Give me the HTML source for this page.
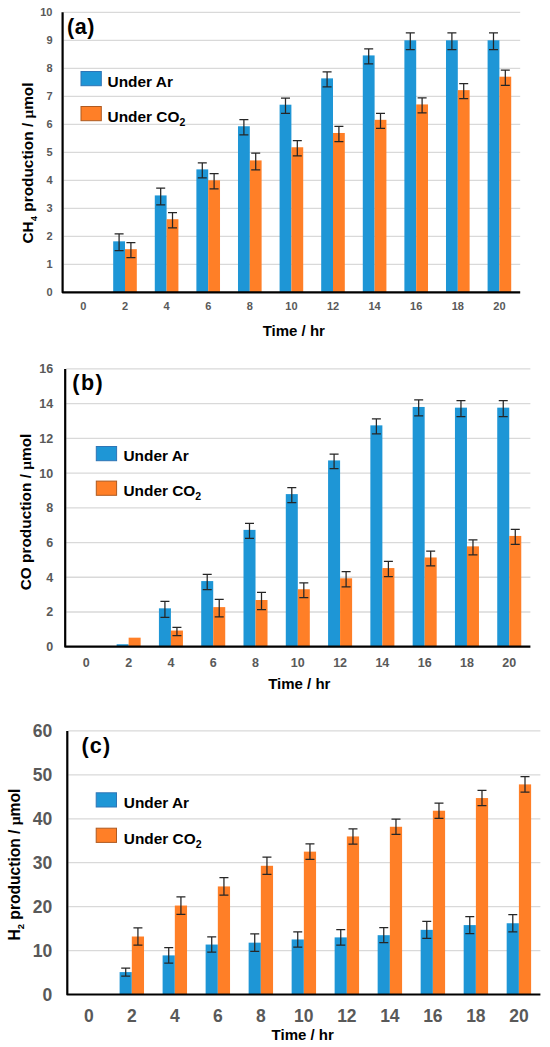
<!DOCTYPE html><html><head><meta charset="utf-8"><style>html,body{margin:0;padding:0;background:#fff;overflow:hidden;width:550px;height:1047px;}svg{display:block;}text{font-family:"Liberation Sans",sans-serif;font-weight:bold;}</style></head><body>
<svg width="550" height="1047" viewBox="0 0 550 1047">
<rect x="0" y="0" width="550" height="1047" fill="#fff"/>
<line x1="63.6" y1="264.3" x2="520.2" y2="264.3" stroke="#D9D9D9" stroke-width="1.3"/>
<line x1="63.6" y1="236.3" x2="520.2" y2="236.3" stroke="#D9D9D9" stroke-width="1.3"/>
<line x1="63.6" y1="208.3" x2="520.2" y2="208.3" stroke="#D9D9D9" stroke-width="1.3"/>
<line x1="63.6" y1="180.3" x2="520.2" y2="180.3" stroke="#D9D9D9" stroke-width="1.3"/>
<line x1="63.6" y1="152.3" x2="520.2" y2="152.3" stroke="#D9D9D9" stroke-width="1.3"/>
<line x1="63.6" y1="124.3" x2="520.2" y2="124.3" stroke="#D9D9D9" stroke-width="1.3"/>
<line x1="63.6" y1="96.3" x2="520.2" y2="96.3" stroke="#D9D9D9" stroke-width="1.3"/>
<line x1="63.6" y1="68.3" x2="520.2" y2="68.3" stroke="#D9D9D9" stroke-width="1.3"/>
<line x1="63.6" y1="40.3" x2="520.2" y2="40.3" stroke="#D9D9D9" stroke-width="1.3"/>
<line x1="63.6" y1="12.3" x2="520.2" y2="12.3" stroke="#D9D9D9" stroke-width="1.3"/>
<rect x="113.19" y="241.34" width="11.81" height="50.96" fill="#1E96D6"/>
<rect x="125" y="249.18" width="11.81" height="43.12" fill="#FF7F27"/>
<rect x="154.79" y="195.42" width="11.81" height="96.88" fill="#1E96D6"/>
<rect x="166.6" y="219.22" width="11.81" height="73.08" fill="#FF7F27"/>
<rect x="196.39" y="169.38" width="11.81" height="122.92" fill="#1E96D6"/>
<rect x="208.2" y="180.3" width="11.81" height="112" fill="#FF7F27"/>
<rect x="237.99" y="126.26" width="11.81" height="166.04" fill="#1E96D6"/>
<rect x="249.8" y="160.42" width="11.81" height="131.88" fill="#FF7F27"/>
<rect x="279.59" y="104.7" width="11.81" height="187.6" fill="#1E96D6"/>
<rect x="291.4" y="147.26" width="11.81" height="145.04" fill="#FF7F27"/>
<rect x="321.19" y="78.38" width="11.81" height="213.92" fill="#1E96D6"/>
<rect x="333" y="132.98" width="11.81" height="159.32" fill="#FF7F27"/>
<rect x="362.79" y="55.42" width="11.81" height="236.88" fill="#1E96D6"/>
<rect x="374.6" y="119.82" width="11.81" height="172.48" fill="#FF7F27"/>
<rect x="404.39" y="40.3" width="11.81" height="252" fill="#1E96D6"/>
<rect x="416.2" y="104.42" width="11.81" height="187.88" fill="#FF7F27"/>
<rect x="445.99" y="40.3" width="11.81" height="252" fill="#1E96D6"/>
<rect x="457.8" y="90.14" width="11.81" height="202.16" fill="#FF7F27"/>
<rect x="487.59" y="40.3" width="11.81" height="252" fill="#1E96D6"/>
<rect x="499.4" y="76.7" width="11.81" height="215.6" fill="#FF7F27"/>
<path d="M119.09 233.94V250.74M114.59 233.94H123.59M114.59 250.74H123.59" stroke="#262626" stroke-width="1.25" fill="none"/>
<path d="M130.91 242.62V257.74M126.41 242.62H135.41M126.41 257.74H135.41" stroke="#262626" stroke-width="1.25" fill="none"/>
<path d="M160.69 188.02V204.82M156.19 188.02H165.19M156.19 204.82H165.19" stroke="#262626" stroke-width="1.25" fill="none"/>
<path d="M172.51 212.66V227.78M168.01 212.66H177.01M168.01 227.78H177.01" stroke="#262626" stroke-width="1.25" fill="none"/>
<path d="M202.29 162.82V177.94M197.79 162.82H206.79M197.79 177.94H206.79" stroke="#262626" stroke-width="1.25" fill="none"/>
<path d="M214.11 173.74V188.86M209.61 173.74H218.61M209.61 188.86H218.61" stroke="#262626" stroke-width="1.25" fill="none"/>
<path d="M243.89 119.7V134.82M239.39 119.7H248.39M239.39 134.82H248.39" stroke="#262626" stroke-width="1.25" fill="none"/>
<path d="M255.71 153.02V169.82M251.21 153.02H260.21M251.21 169.82H260.21" stroke="#262626" stroke-width="1.25" fill="none"/>
<path d="M285.49 98.14V113.26M280.99 98.14H289.99M280.99 113.26H289.99" stroke="#262626" stroke-width="1.25" fill="none"/>
<path d="M297.31 140.7V155.82M292.81 140.7H301.81M292.81 155.82H301.81" stroke="#262626" stroke-width="1.25" fill="none"/>
<path d="M327.09 71.82V86.94M322.59 71.82H331.59M322.59 86.94H331.59" stroke="#262626" stroke-width="1.25" fill="none"/>
<path d="M338.91 126.42V141.54M334.41 126.42H343.41M334.41 141.54H343.41" stroke="#262626" stroke-width="1.25" fill="none"/>
<path d="M368.69 48.86V63.98M364.19 48.86H373.19M364.19 63.98H373.19" stroke="#262626" stroke-width="1.25" fill="none"/>
<path d="M380.51 113.26V128.38M376.01 113.26H385.01M376.01 128.38H385.01" stroke="#262626" stroke-width="1.25" fill="none"/>
<path d="M410.29 32.9V49.7M405.79 32.9H414.79M405.79 49.7H414.79" stroke="#262626" stroke-width="1.25" fill="none"/>
<path d="M422.11 97.86V112.98M417.61 97.86H426.61M417.61 112.98H426.61" stroke="#262626" stroke-width="1.25" fill="none"/>
<path d="M451.89 32.9V49.7M447.39 32.9H456.39M447.39 49.7H456.39" stroke="#262626" stroke-width="1.25" fill="none"/>
<path d="M463.71 83.58V98.7M459.21 83.58H468.21M459.21 98.7H468.21" stroke="#262626" stroke-width="1.25" fill="none"/>
<path d="M493.49 32.9V49.7M488.99 32.9H497.99M488.99 49.7H497.99" stroke="#262626" stroke-width="1.25" fill="none"/>
<path d="M505.31 70.14V85.26M500.81 70.14H509.81M500.81 85.26H509.81" stroke="#262626" stroke-width="1.25" fill="none"/>
<path d="M62.6 12.3V292.3H520.2" stroke="#000" stroke-width="2.2" fill="none" stroke-linejoin="round"/>
<text x="52.5" y="296.24" font-size="11" fill="#595959" text-anchor="end">0</text>
<text x="52.5" y="268.24" font-size="11" fill="#595959" text-anchor="end">1</text>
<text x="52.5" y="240.24" font-size="11" fill="#595959" text-anchor="end">2</text>
<text x="52.5" y="212.24" font-size="11" fill="#595959" text-anchor="end">3</text>
<text x="52.5" y="184.24" font-size="11" fill="#595959" text-anchor="end">4</text>
<text x="52.5" y="156.24" font-size="11" fill="#595959" text-anchor="end">5</text>
<text x="52.5" y="128.24" font-size="11" fill="#595959" text-anchor="end">6</text>
<text x="52.5" y="100.24" font-size="11" fill="#595959" text-anchor="end">7</text>
<text x="52.5" y="72.24" font-size="11" fill="#595959" text-anchor="end">8</text>
<text x="52.5" y="44.24" font-size="11" fill="#595959" text-anchor="end">9</text>
<text x="52.5" y="16.24" font-size="11" fill="#595959" text-anchor="end">10</text>
<text x="83.4" y="309.5" font-size="11" fill="#595959" text-anchor="middle">0</text>
<text x="125" y="309.5" font-size="11" fill="#595959" text-anchor="middle">2</text>
<text x="166.6" y="309.5" font-size="11" fill="#595959" text-anchor="middle">4</text>
<text x="208.2" y="309.5" font-size="11" fill="#595959" text-anchor="middle">6</text>
<text x="249.8" y="309.5" font-size="11" fill="#595959" text-anchor="middle">8</text>
<text x="291.4" y="309.5" font-size="11" fill="#595959" text-anchor="middle">10</text>
<text x="333" y="309.5" font-size="11" fill="#595959" text-anchor="middle">12</text>
<text x="374.6" y="309.5" font-size="11" fill="#595959" text-anchor="middle">14</text>
<text x="416.2" y="309.5" font-size="11" fill="#595959" text-anchor="middle">16</text>
<text x="457.8" y="309.5" font-size="11" fill="#595959" text-anchor="middle">18</text>
<text x="499.4" y="309.5" font-size="11" fill="#595959" text-anchor="middle">20</text>
<text x="66.9" y="34.3" font-size="21.5" letter-spacing="0.6" fill="#000">(a)</text>
<rect x="81" y="71.5" width="20.3" height="14.2" fill="#1E96D6" stroke="#2E75B6" stroke-width="1"/>
<rect x="81" y="106.5" width="20.3" height="14.2" fill="#FF7F27" stroke="#AE5A21" stroke-width="1"/>
<text x="107.6" y="86.8" font-size="15.4" fill="#000">Under Ar</text>
<text x="107.6" y="121.5" font-size="15.4" fill="#000">Under CO<tspan font-size="10.5" dy="4">2</tspan></text>
<text transform="translate(33,163) rotate(-90)" font-size="15.4" fill="#000" text-anchor="middle">CH<tspan font-size='9.5' dy='4'>4</tspan><tspan dy='-4'> production / </tspan><tspan font-family='Liberation Serif' font-weight='bold'>μ</tspan>mol</text>
<text x="262.7" y="335.5" font-size="15" fill="#000">Time / hr</text>
<line x1="66.2" y1="611.98" x2="530.4" y2="611.98" stroke="#D9D9D9" stroke-width="1.3"/>
<line x1="66.2" y1="577.26" x2="530.4" y2="577.26" stroke="#D9D9D9" stroke-width="1.3"/>
<line x1="66.2" y1="542.54" x2="530.4" y2="542.54" stroke="#D9D9D9" stroke-width="1.3"/>
<line x1="66.2" y1="507.82" x2="530.4" y2="507.82" stroke="#D9D9D9" stroke-width="1.3"/>
<line x1="66.2" y1="473.1" x2="530.4" y2="473.1" stroke="#D9D9D9" stroke-width="1.3"/>
<line x1="66.2" y1="438.38" x2="530.4" y2="438.38" stroke="#D9D9D9" stroke-width="1.3"/>
<line x1="66.2" y1="403.66" x2="530.4" y2="403.66" stroke="#D9D9D9" stroke-width="1.3"/>
<line x1="66.2" y1="368.94" x2="530.4" y2="368.94" stroke="#D9D9D9" stroke-width="1.3"/>
<rect x="116.63" y="644.27" width="12.01" height="2.43" fill="#1E96D6"/>
<rect x="128.64" y="637.67" width="12.01" height="9.03" fill="#FF7F27"/>
<rect x="158.92" y="608.33" width="12.01" height="38.37" fill="#1E96D6"/>
<rect x="170.93" y="630.56" width="12.01" height="16.14" fill="#FF7F27"/>
<rect x="201.21" y="581.08" width="12.01" height="65.62" fill="#1E96D6"/>
<rect x="213.22" y="607.12" width="12.01" height="39.58" fill="#FF7F27"/>
<rect x="243.5" y="529.87" width="12.01" height="116.83" fill="#1E96D6"/>
<rect x="255.51" y="600" width="12.01" height="46.7" fill="#FF7F27"/>
<rect x="285.79" y="494.11" width="12.01" height="152.59" fill="#1E96D6"/>
<rect x="297.8" y="589.24" width="12.01" height="57.46" fill="#FF7F27"/>
<rect x="328.08" y="460.43" width="12.01" height="186.27" fill="#1E96D6"/>
<rect x="340.09" y="578.3" width="12.01" height="68.4" fill="#FF7F27"/>
<rect x="370.37" y="425.36" width="12.01" height="221.34" fill="#1E96D6"/>
<rect x="382.38" y="568.06" width="12.01" height="78.64" fill="#FF7F27"/>
<rect x="412.66" y="406.96" width="12.01" height="239.74" fill="#1E96D6"/>
<rect x="424.67" y="557.47" width="12.01" height="89.23" fill="#FF7F27"/>
<rect x="454.95" y="407.65" width="12.01" height="239.05" fill="#1E96D6"/>
<rect x="466.96" y="546.36" width="12.01" height="100.34" fill="#FF7F27"/>
<rect x="497.24" y="407.65" width="12.01" height="239.05" fill="#1E96D6"/>
<rect x="509.25" y="535.94" width="12.01" height="110.76" fill="#FF7F27"/>
<path d="M164.92 601.35V617.32M160.42 601.35H169.42M160.42 617.32H169.42" stroke="#262626" stroke-width="1.25" fill="none"/>
<path d="M176.93 627.39V635.72M172.43 627.39H181.43M172.43 635.72H181.43" stroke="#262626" stroke-width="1.25" fill="none"/>
<path d="M207.21 574.44V589.72M202.71 574.44H211.71M202.71 589.72H211.71" stroke="#262626" stroke-width="1.25" fill="none"/>
<path d="M219.22 599.44V616.8M214.72 599.44H223.72M214.72 616.8H223.72" stroke="#262626" stroke-width="1.25" fill="none"/>
<path d="M249.5 523.4V538.33M245 523.4H254M245 538.33H254" stroke="#262626" stroke-width="1.25" fill="none"/>
<path d="M261.51 592.32V609.68M257.01 592.32H266.01M257.01 609.68H266.01" stroke="#262626" stroke-width="1.25" fill="none"/>
<path d="M291.79 487.64V502.57M287.29 487.64H296.29M287.29 502.57H296.29" stroke="#262626" stroke-width="1.25" fill="none"/>
<path d="M303.81 582.77V597.7M299.31 582.77H308.31M299.31 597.7H308.31" stroke="#262626" stroke-width="1.25" fill="none"/>
<path d="M334.09 454.14V468.72M329.59 454.14H338.59M329.59 468.72H338.59" stroke="#262626" stroke-width="1.25" fill="none"/>
<path d="M346.1 571.66V586.94M341.6 571.66H350.6M341.6 586.94H350.6" stroke="#262626" stroke-width="1.25" fill="none"/>
<path d="M376.38 418.9V433.82M371.88 418.9H380.88M371.88 433.82H380.88" stroke="#262626" stroke-width="1.25" fill="none"/>
<path d="M388.39 561.42V576.7M383.89 561.42H392.89M383.89 576.7H392.89" stroke="#262626" stroke-width="1.25" fill="none"/>
<path d="M418.67 399.97V415.94M414.17 399.97H423.17M414.17 415.94H423.17" stroke="#262626" stroke-width="1.25" fill="none"/>
<path d="M430.68 551V565.93M426.18 551H435.18M426.18 565.93H435.18" stroke="#262626" stroke-width="1.25" fill="none"/>
<path d="M460.96 400.67V416.64M456.46 400.67H465.46M456.46 416.64H465.46" stroke="#262626" stroke-width="1.25" fill="none"/>
<path d="M472.97 539.89V554.82M468.47 539.89H477.47M468.47 554.82H477.47" stroke="#262626" stroke-width="1.25" fill="none"/>
<path d="M503.25 400.67V416.64M498.75 400.67H507.75M498.75 416.64H507.75" stroke="#262626" stroke-width="1.25" fill="none"/>
<path d="M515.26 529.48V544.41M510.76 529.48H519.76M510.76 544.41H519.76" stroke="#262626" stroke-width="1.25" fill="none"/>
<path d="M65.2 368.94V646.7H530.4" stroke="#000" stroke-width="2.2" fill="none" stroke-linejoin="round"/>
<text x="53.2" y="651.18" font-size="12.5" fill="#595959" text-anchor="end">0</text>
<text x="53.2" y="616.46" font-size="12.5" fill="#595959" text-anchor="end">2</text>
<text x="53.2" y="581.74" font-size="12.5" fill="#595959" text-anchor="end">4</text>
<text x="53.2" y="547.02" font-size="12.5" fill="#595959" text-anchor="end">6</text>
<text x="53.2" y="512.3" font-size="12.5" fill="#595959" text-anchor="end">8</text>
<text x="53.2" y="477.58" font-size="12.5" fill="#595959" text-anchor="end">10</text>
<text x="53.2" y="442.86" font-size="12.5" fill="#595959" text-anchor="end">12</text>
<text x="53.2" y="408.14" font-size="12.5" fill="#595959" text-anchor="end">14</text>
<text x="53.2" y="373.42" font-size="12.5" fill="#595959" text-anchor="end">16</text>
<text x="86.35" y="667" font-size="12.5" fill="#595959" text-anchor="middle">0</text>
<text x="128.64" y="667" font-size="12.5" fill="#595959" text-anchor="middle">2</text>
<text x="170.93" y="667" font-size="12.5" fill="#595959" text-anchor="middle">4</text>
<text x="213.22" y="667" font-size="12.5" fill="#595959" text-anchor="middle">6</text>
<text x="255.51" y="667" font-size="12.5" fill="#595959" text-anchor="middle">8</text>
<text x="297.8" y="667" font-size="12.5" fill="#595959" text-anchor="middle">10</text>
<text x="340.09" y="667" font-size="12.5" fill="#595959" text-anchor="middle">12</text>
<text x="382.38" y="667" font-size="12.5" fill="#595959" text-anchor="middle">14</text>
<text x="424.67" y="667" font-size="12.5" fill="#595959" text-anchor="middle">16</text>
<text x="466.96" y="667" font-size="12.5" fill="#595959" text-anchor="middle">18</text>
<text x="509.25" y="667" font-size="12.5" fill="#595959" text-anchor="middle">20</text>
<text x="72.3" y="390.4" font-size="21.5" letter-spacing="1.5" fill="#000">(b)</text>
<rect x="96.3" y="446.5" width="20.3" height="14.2" fill="#1E96D6" stroke="#2E75B6" stroke-width="1"/>
<rect x="96.3" y="481.1" width="20.3" height="14.2" fill="#FF7F27" stroke="#AE5A21" stroke-width="1"/>
<text x="123.5" y="461.2" font-size="15.4" fill="#000">Under Ar</text>
<text x="123.5" y="496" font-size="15.4" fill="#000">Under CO<tspan font-size="10.5" dy="4">2</tspan></text>
<text transform="translate(30.8,512) rotate(-90)" font-size="15.4" fill="#000" text-anchor="middle">CO production / <tspan font-family='Liberation Serif' font-weight='bold'>μ</tspan>mol</text>
<text x="268.2" y="689" font-size="15" fill="#000">Time / hr</text>
<line x1="68.3" y1="950.57" x2="540.4" y2="950.57" stroke="#D9D9D9" stroke-width="1.3"/>
<line x1="68.3" y1="906.64" x2="540.4" y2="906.64" stroke="#D9D9D9" stroke-width="1.3"/>
<line x1="68.3" y1="862.71" x2="540.4" y2="862.71" stroke="#D9D9D9" stroke-width="1.3"/>
<line x1="68.3" y1="818.78" x2="540.4" y2="818.78" stroke="#D9D9D9" stroke-width="1.3"/>
<line x1="68.3" y1="774.85" x2="540.4" y2="774.85" stroke="#D9D9D9" stroke-width="1.3"/>
<line x1="68.3" y1="730.92" x2="540.4" y2="730.92" stroke="#D9D9D9" stroke-width="1.3"/>
<rect x="119.6" y="972.1" width="12.21" height="22.4" fill="#1E96D6"/>
<rect x="131.81" y="936.51" width="12.21" height="57.99" fill="#FF7F27"/>
<rect x="162.61" y="955.4" width="12.21" height="39.1" fill="#1E96D6"/>
<rect x="174.82" y="905.54" width="12.21" height="88.96" fill="#FF7F27"/>
<rect x="205.62" y="944.55" width="12.21" height="49.95" fill="#1E96D6"/>
<rect x="217.83" y="886.43" width="12.21" height="108.07" fill="#FF7F27"/>
<rect x="248.63" y="942.66" width="12.21" height="51.84" fill="#1E96D6"/>
<rect x="260.84" y="865.79" width="12.21" height="128.71" fill="#FF7F27"/>
<rect x="291.64" y="939.46" width="12.21" height="55.04" fill="#1E96D6"/>
<rect x="303.85" y="851.64" width="12.21" height="142.86" fill="#FF7F27"/>
<rect x="334.64" y="937.39" width="12.21" height="57.11" fill="#1E96D6"/>
<rect x="346.86" y="836.44" width="12.21" height="158.06" fill="#FF7F27"/>
<rect x="377.65" y="935.19" width="12.21" height="59.31" fill="#1E96D6"/>
<rect x="389.87" y="826.78" width="12.21" height="167.72" fill="#FF7F27"/>
<rect x="420.66" y="929.84" width="12.21" height="64.66" fill="#1E96D6"/>
<rect x="432.88" y="810.74" width="12.21" height="183.76" fill="#FF7F27"/>
<rect x="463.67" y="925.09" width="12.21" height="69.41" fill="#1E96D6"/>
<rect x="475.89" y="798.05" width="12.21" height="196.45" fill="#FF7F27"/>
<rect x="506.68" y="923.25" width="12.21" height="71.25" fill="#1E96D6"/>
<rect x="518.9" y="784.38" width="12.21" height="210.12" fill="#FF7F27"/>
<path d="M125.71 968.14V976.05M121.21 968.14H130.21M121.21 976.05H130.21" stroke="#262626" stroke-width="1.25" fill="none"/>
<path d="M137.92 927.95V945.08M133.42 927.95H142.42M133.42 945.08H142.42" stroke="#262626" stroke-width="1.25" fill="none"/>
<path d="M168.72 947.71V963.09M164.22 947.71H173.22M164.22 963.09H173.22" stroke="#262626" stroke-width="1.25" fill="none"/>
<path d="M180.93 896.76V914.33M176.43 896.76H185.43M176.43 914.33H185.43" stroke="#262626" stroke-width="1.25" fill="none"/>
<path d="M211.72 936.86V952.24M207.22 936.86H216.22M207.22 952.24H216.22" stroke="#262626" stroke-width="1.25" fill="none"/>
<path d="M223.94 877.65V895.22M219.44 877.65H228.44M219.44 895.22H228.44" stroke="#262626" stroke-width="1.25" fill="none"/>
<path d="M254.73 933.88V951.45M250.23 933.88H259.23M250.23 951.45H259.23" stroke="#262626" stroke-width="1.25" fill="none"/>
<path d="M266.95 857.22V874.35M262.45 857.22H271.45M262.45 874.35H271.45" stroke="#262626" stroke-width="1.25" fill="none"/>
<path d="M297.74 931.77V947.14M293.24 931.77H302.24M293.24 947.14H302.24" stroke="#262626" stroke-width="1.25" fill="none"/>
<path d="M309.96 843.95V859.33M305.46 843.95H314.46M305.46 859.33H314.46" stroke="#262626" stroke-width="1.25" fill="none"/>
<path d="M340.75 929.7V945.08M336.25 929.7H345.25M336.25 945.08H345.25" stroke="#262626" stroke-width="1.25" fill="none"/>
<path d="M352.97 828.75V844.13M348.47 828.75H357.47M348.47 844.13H357.47" stroke="#262626" stroke-width="1.25" fill="none"/>
<path d="M383.76 927.73V942.66M379.26 927.73H388.26M379.26 942.66H388.26" stroke="#262626" stroke-width="1.25" fill="none"/>
<path d="M395.98 819.09V834.46M391.48 819.09H400.48M391.48 834.46H400.48" stroke="#262626" stroke-width="1.25" fill="none"/>
<path d="M426.77 921.27V938.4M422.27 921.27H431.27M422.27 938.4H431.27" stroke="#262626" stroke-width="1.25" fill="none"/>
<path d="M438.98 803.05V818.43M434.48 803.05H443.48M434.48 818.43H443.48" stroke="#262626" stroke-width="1.25" fill="none"/>
<path d="M469.78 916.52V933.66M465.28 916.52H474.28M465.28 933.66H474.28" stroke="#262626" stroke-width="1.25" fill="none"/>
<path d="M481.99 790.36V805.73M477.49 790.36H486.49M477.49 805.73H486.49" stroke="#262626" stroke-width="1.25" fill="none"/>
<path d="M512.79 914.68V931.81M508.29 914.68H517.29M508.29 931.81H517.29" stroke="#262626" stroke-width="1.25" fill="none"/>
<path d="M525 776.7V792.07M520.5 776.7H529.5M520.5 792.07H529.5" stroke="#262626" stroke-width="1.25" fill="none"/>
<path d="M67.3 730.92V994.5H540.4" stroke="#000" stroke-width="2.2" fill="none" stroke-linejoin="round"/>
<text x="52.3" y="1000.76" font-size="17.5" fill="#595959" text-anchor="end">0</text>
<text x="52.3" y="956.84" font-size="17.5" fill="#595959" text-anchor="end">10</text>
<text x="52.3" y="912.9" font-size="17.5" fill="#595959" text-anchor="end">20</text>
<text x="52.3" y="868.98" font-size="17.5" fill="#595959" text-anchor="end">30</text>
<text x="52.3" y="825.04" font-size="17.5" fill="#595959" text-anchor="end">40</text>
<text x="52.3" y="781.12" font-size="17.5" fill="#595959" text-anchor="end">50</text>
<text x="52.3" y="737.19" font-size="17.5" fill="#595959" text-anchor="end">60</text>
<text x="88.8" y="1021.5" font-size="17.5" fill="#595959" text-anchor="middle">0</text>
<text x="131.81" y="1021.5" font-size="17.5" fill="#595959" text-anchor="middle">2</text>
<text x="174.82" y="1021.5" font-size="17.5" fill="#595959" text-anchor="middle">4</text>
<text x="217.83" y="1021.5" font-size="17.5" fill="#595959" text-anchor="middle">6</text>
<text x="260.84" y="1021.5" font-size="17.5" fill="#595959" text-anchor="middle">8</text>
<text x="303.85" y="1021.5" font-size="17.5" fill="#595959" text-anchor="middle">10</text>
<text x="346.86" y="1021.5" font-size="17.5" fill="#595959" text-anchor="middle">12</text>
<text x="389.87" y="1021.5" font-size="17.5" fill="#595959" text-anchor="middle">14</text>
<text x="432.88" y="1021.5" font-size="17.5" fill="#595959" text-anchor="middle">16</text>
<text x="475.89" y="1021.5" font-size="17.5" fill="#595959" text-anchor="middle">18</text>
<text x="518.9" y="1021.5" font-size="17.5" fill="#595959" text-anchor="middle">20</text>
<text x="81.6" y="752.9" font-size="21.5" letter-spacing="1.1" fill="#000">(c)</text>
<rect x="96.2" y="792.8" width="20.3" height="14.2" fill="#1E96D6" stroke="#2E75B6" stroke-width="1"/>
<rect x="96.2" y="828.2" width="20.3" height="14.2" fill="#FF7F27" stroke="#AE5A21" stroke-width="1"/>
<text x="123.8" y="808" font-size="15.4" fill="#000">Under Ar</text>
<text x="123.8" y="843.6" font-size="15.4" fill="#000">Under CO<tspan font-size="10.5" dy="4">2</tspan></text>
<text transform="translate(19.5,864.6) rotate(-90)" font-size="15.6" fill="#000" text-anchor="middle">H<tspan font-size='9.5' dy='4'>2</tspan><tspan dy='-4'> production / </tspan><tspan font-family='Liberation Serif' font-weight='bold'>μ</tspan>mol</text>
<text x="271.6" y="1039.5" font-size="15" fill="#000">Time / hr</text>
</svg></body></html>
